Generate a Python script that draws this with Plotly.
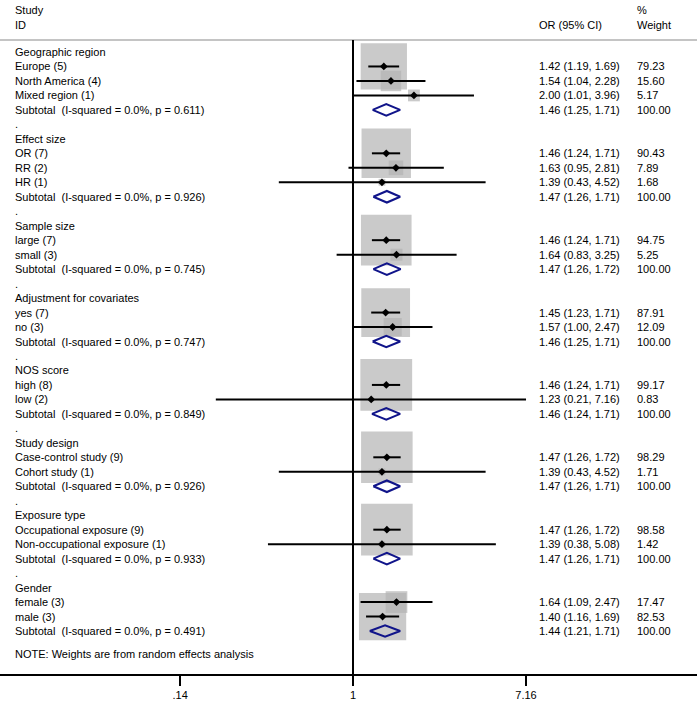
import math
import plotly.graph_objects as go

# ---------------- data ----------------
group_names = ["Geographic region", "Effect size", "Sample size", "Adjustment for covariates",
               "NOS score", "Study design", "Exposure type", "Gender"]
study_labels = ["Europe (5)", "North America (4)", "Mixed region (1)",
                "OR (7)", "RR (2)", "HR (1)",
                "large (7)", "small (3)",
                "yes (7)", "no (3)",
                "high (8)", "low (2)",
                "Case-control study (9)", "Cohort study (1)",
                "Occupational exposure (9)", "Non-occupational exposure (1)",
                "female (3)", "male (3)"]
study_group = [0, 0, 0, 1, 1, 1, 2, 2, 3, 3, 4, 4, 5, 5, 6, 6, 7, 7]
study_or = [1.42, 1.54, 2.00, 1.46, 1.63, 1.39, 1.46, 1.64, 1.45, 1.57, 1.46, 1.23, 1.47, 1.39, 1.47, 1.39, 1.64, 1.40]
study_lo = [1.19, 1.04, 1.01, 1.24, 0.95, 0.43, 1.24, 0.83, 1.23, 1.00, 1.24, 0.21, 1.26, 0.43, 1.26, 0.38, 1.09, 1.16]
study_hi = [1.69, 2.28, 3.96, 1.71, 2.81, 4.52, 1.71, 3.25, 1.71, 2.47, 1.71, 7.16, 1.72, 4.52, 1.72, 5.08, 2.47, 1.69]
study_wt = [79.23, 15.60, 5.17, 90.43, 7.89, 1.68, 94.75, 5.25, 87.91, 12.09, 99.17, 0.83, 98.29, 1.71, 98.58, 1.42, 17.47, 82.53]

sub_isq = [0.0, 0.0, 0.0, 0.0, 0.0, 0.0, 0.0, 0.0]
sub_p = [0.611, 0.926, 0.745, 0.747, 0.849, 0.926, 0.933, 0.491]
sub_or = [1.46, 1.47, 1.47, 1.46, 1.46, 1.47, 1.47, 1.44]
sub_lo = [1.25, 1.26, 1.26, 1.25, 1.24, 1.26, 1.26, 1.21]
sub_hi = [1.71, 1.71, 1.72, 1.71, 1.71, 1.71, 1.71, 1.71]
sub_wt = [100.00] * 8

x_tickvals = [0.14, 1, 7.16]
x_ticktext = [".14", "1", "7.16"]

# ---------------- geometry ----------------
W, H = 697, 701
X_ONE = 353.0      # pixel of OR = 1
K = 87.9           # pixels per natural-log unit
ROW0 = 52.0        # pixel of first row
PITCH = 14.475     # pixels per row
AXIS_PX = 675.0
HEADER_LINE_PX = 40.0
LEFT_PX, OR_PX, WT_PX = 13, 537, 635
FONT = dict(family="Liberation Sans, Arial, sans-serif", size=11, color="black")
BOX_K = 5.2
NAVY = "#10148a"
GRAY = "#b4b4b4"


def prow(px):
    return (px - ROW0) / PITCH


# assign rows
rows_text = []   # (row, left, or_text, wt_text)
study_rows = [0] * len(study_labels)
sub_rows = [0] * len(group_names)
r = 0
for g, name in enumerate(group_names):
    rows_text.append((r, name, "", ""))
    r += 1
    for i, gi in enumerate(study_group):
        if gi == g:
            study_rows[i] = r
            rows_text.append((r, study_labels[i],
                              f"{study_or[i]:.2f} ({study_lo[i]:.2f}, {study_hi[i]:.2f})",
                              f"{study_wt[i]:.2f}"))
            r += 1
    sub_rows[g] = r
    rows_text.append((r, f"Subtotal\u00a0 (I-squared = {sub_isq[g]:.1f}%, p = {sub_p[g]:.3f})",
                      f"{sub_or[g]:.2f} ({sub_lo[g]:.2f}, {sub_hi[g]:.2f})",
                      f"{sub_wt[g]:.2f}"))
    r += 1
    if g < len(group_names) - 1:
        rows_text.append((r, ".", "", ""))
        r += 1

fig = go.Figure()

# weight boxes
fig.add_trace(go.Scatter(
    x=study_or, y=study_rows, mode="markers",
    marker=dict(symbol="square", size=[BOX_K * math.sqrt(w) for w in study_wt],
                color=GRAY, line=dict(width=0)),
    hoverinfo="skip", showlegend=False))

# CI lines
cx, cy = [], []
for lo, hi, rr in zip(study_lo, study_hi, study_rows):
    cx += [lo, hi, None]
    cy += [rr, rr, None]
fig.add_trace(go.Scatter(x=cx, y=cy, mode="lines", line=dict(color="black", width=2),
                         hoverinfo="skip", showlegend=False))

# point estimates
fig.add_trace(go.Scatter(
    x=study_or, y=study_rows, mode="markers",
    marker=dict(symbol="diamond", size=6, color="black", line=dict(width=0)),
    hoverinfo="skip", showlegend=False))

# subtotal diamonds
DH = 0.4
dx, dy = [], []
for est, lo, hi, rr in zip(sub_or, sub_lo, sub_hi, sub_rows):
    dx += [lo, est, hi, est, lo, None]
    dy += [rr, rr - DH, rr, rr + DH, rr, None]
fig.add_trace(go.Scatter(x=dx, y=dy, mode="lines", line=dict(color=NAVY, width=2),
                         hoverinfo="skip", showlegend=False))

# text
ann = []
def txt(xpx, yrow, s):
    ann.append(dict(x=xpx / W, xref="paper", y=yrow, yref="y", text=s, showarrow=False,
                    xanchor="left", yanchor="middle", font=FONT))

txt(LEFT_PX, prow(10), "Study")
txt(LEFT_PX, prow(24.5), "ID")
txt(OR_PX, prow(24.5), "OR (95% CI)")
txt(WT_PX, prow(10), "%")
txt(WT_PX, prow(24.5), "Weight")
for rr, left, ort, wt in rows_text:
    txt(LEFT_PX, rr, left)
    if ort:
        txt(OR_PX, rr, ort)
        txt(WT_PX, rr, wt)
txt(LEFT_PX, prow(654), "NOTE: Weights are from random effects analysis")

shapes = [
    dict(type="line", xref="paper", yref="y", x0=0, x1=1,
         y0=prow(HEADER_LINE_PX), y1=prow(HEADER_LINE_PX),
         line=dict(color="#b0b0b0", width=1.5)),
    dict(type="line", xref="x", yref="y", x0=1, x1=1,
         y0=prow(HEADER_LINE_PX), y1=prow(AXIS_PX),
         line=dict(color="black", width=2)),
]

ln10 = math.log(10)
fig.update_layout(
    width=W, height=H, autosize=False,
    margin=dict(l=0, r=0, t=0, b=0, pad=0),
    paper_bgcolor="white", plot_bgcolor="white",
    annotations=ann, shapes=shapes,
    xaxis=dict(type="log", domain=[0, 1],
               range=[(-X_ONE / K) / ln10, ((W - X_ONE) / K) / ln10],
               anchor="free", position=(H - AXIS_PX) / H,
               showline=True, linecolor="black", linewidth=2,
               ticks="outside", ticklen=10, tickwidth=2, tickcolor="black",
               tickvals=x_tickvals, ticktext=x_ticktext, tickfont=FONT,
               showgrid=False, zeroline=False, fixedrange=True),
    yaxis=dict(domain=[0, 1], range=[(H - ROW0) / PITCH, -ROW0 / PITCH],
               visible=False, showgrid=False, zeroline=False, fixedrange=True),
    showlegend=False,
    hovermode=False,
)

fig.write_html("out.html",
               config={"displayModeBar": False, "staticPlot": True},
               post_script="document.body.style.margin='0';document.body.style.overflow='hidden';")
